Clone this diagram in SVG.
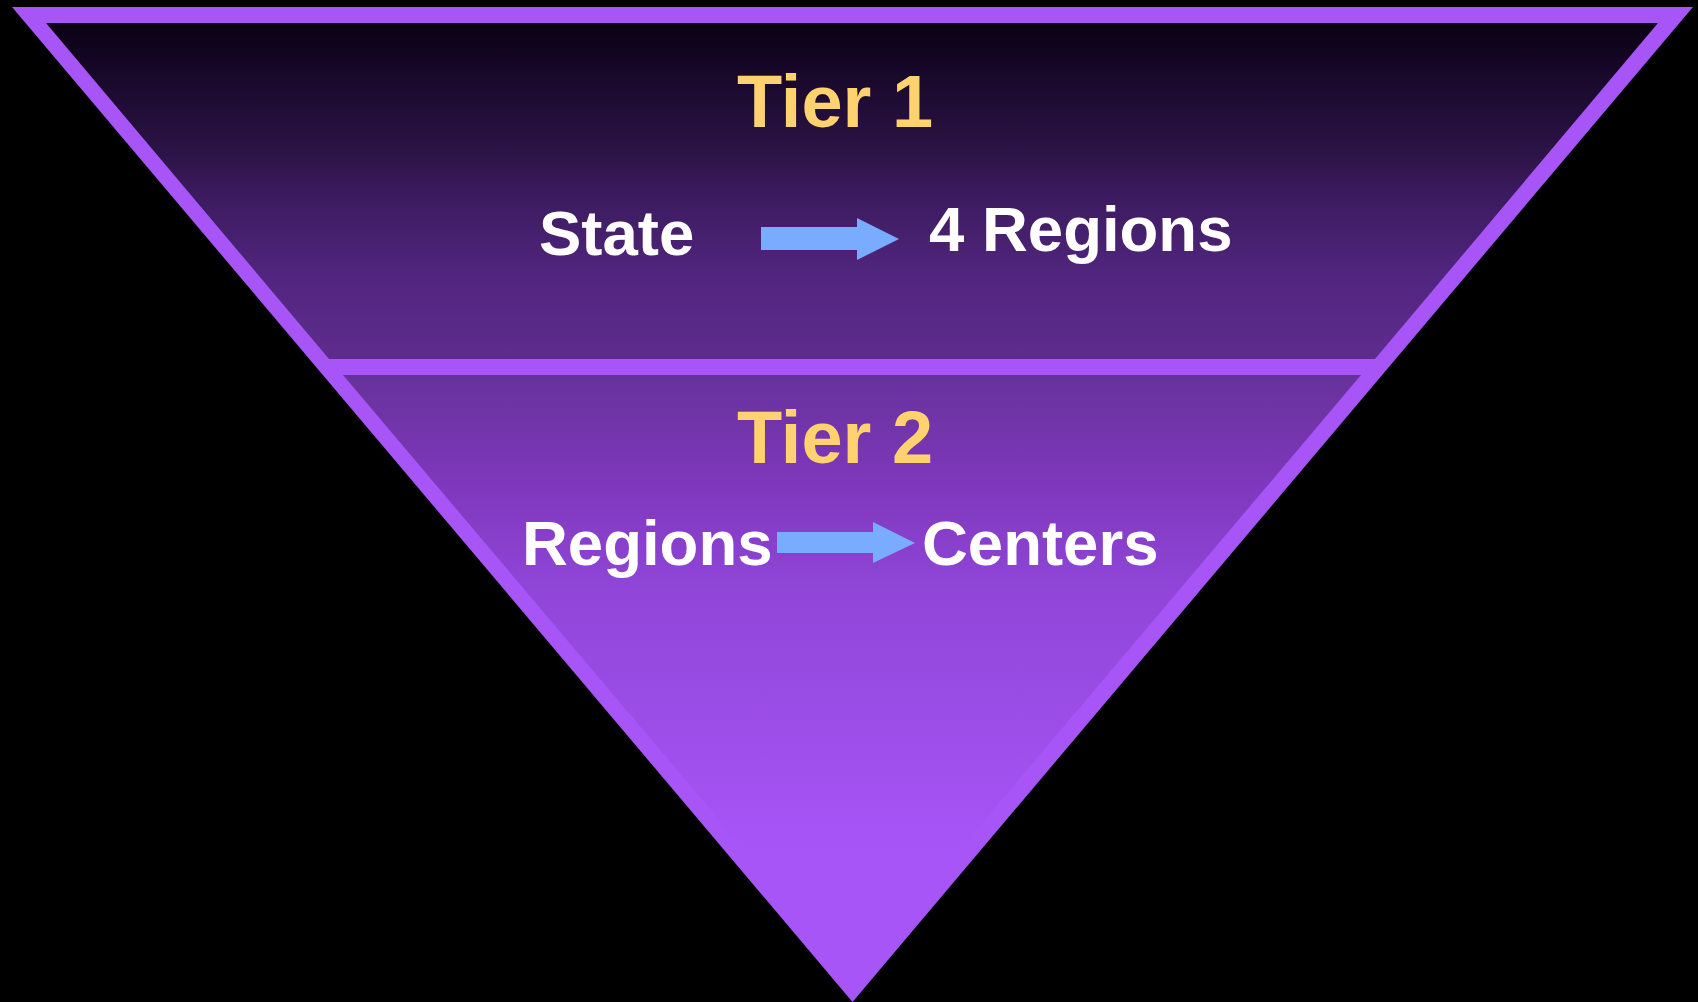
<svg xmlns="http://www.w3.org/2000/svg" width="1698" height="1002" viewBox="0 0 1698 1002">
  <defs>
    <linearGradient id="fillGrad" gradientUnits="userSpaceOnUse" x1="0" y1="0" x2="0" y2="1000">
      <stop offset="0.023" stop-color="#0a0212"/>
      <stop offset="0.055" stop-color="#130522"/>
      <stop offset="0.155" stop-color="#2d1448"/>
      <stop offset="0.19" stop-color="#3a1a5c"/>
      <stop offset="0.28" stop-color="#522680"/>
      <stop offset="0.36" stop-color="#5e2c8e"/>
      <stop offset="0.38" stop-color="#68329c"/>
      <stop offset="0.49" stop-color="#8038be"/>
      <stop offset="0.59" stop-color="#9046d8"/>
      <stop offset="0.85" stop-color="#a855f7"/>
    </linearGradient>
    <style>
      .tier { font-family: "Liberation Sans", Arial, sans-serif; font-weight: bold; font-size: 74px; fill: #ffd270; }
      .lbl { font-family: "Liberation Sans", Arial, sans-serif; font-weight: bold; font-size: 63.5px; fill: #ffffff; }
      .arrow { fill: #79abff; }
    </style>
  </defs>
  <rect x="0" y="0" width="1698" height="1002" fill="#000000"/>
  <g id="funnel">
    <polygon points="12,7 1693,7 852.5,1002" fill="#a855f7"/>
  </g>
  <g id="tier1">
    <polygon points="46,23 1658,23 1375,359 329,359" fill="url(#fillGrad)"/>
    <text class="tier" x="737" y="127">Tier 1</text>
    <text class="lbl" x="539" y="255">State</text>
    <text class="lbl" x="929" y="251">4 Regions</text>
  </g>
  <g id="tier2">
    <polygon points="343,375 1361,375 852,977" fill="url(#fillGrad)"/>
    <text class="tier" x="737" y="463">Tier 2</text>
    <text class="lbl" x="522" y="565">Regions</text>
    <text class="lbl" x="922" y="565">Centers</text>
  </g>
  <g id="connectors">
    <polygon class="arrow" points="761,227 857,227 857,218 899,239 857,260 857,250 761,250"/>
    <polygon class="arrow" points="777,532 873,532 873,522 915,543 873,563 873,553 777,553"/>
  </g>
</svg>
